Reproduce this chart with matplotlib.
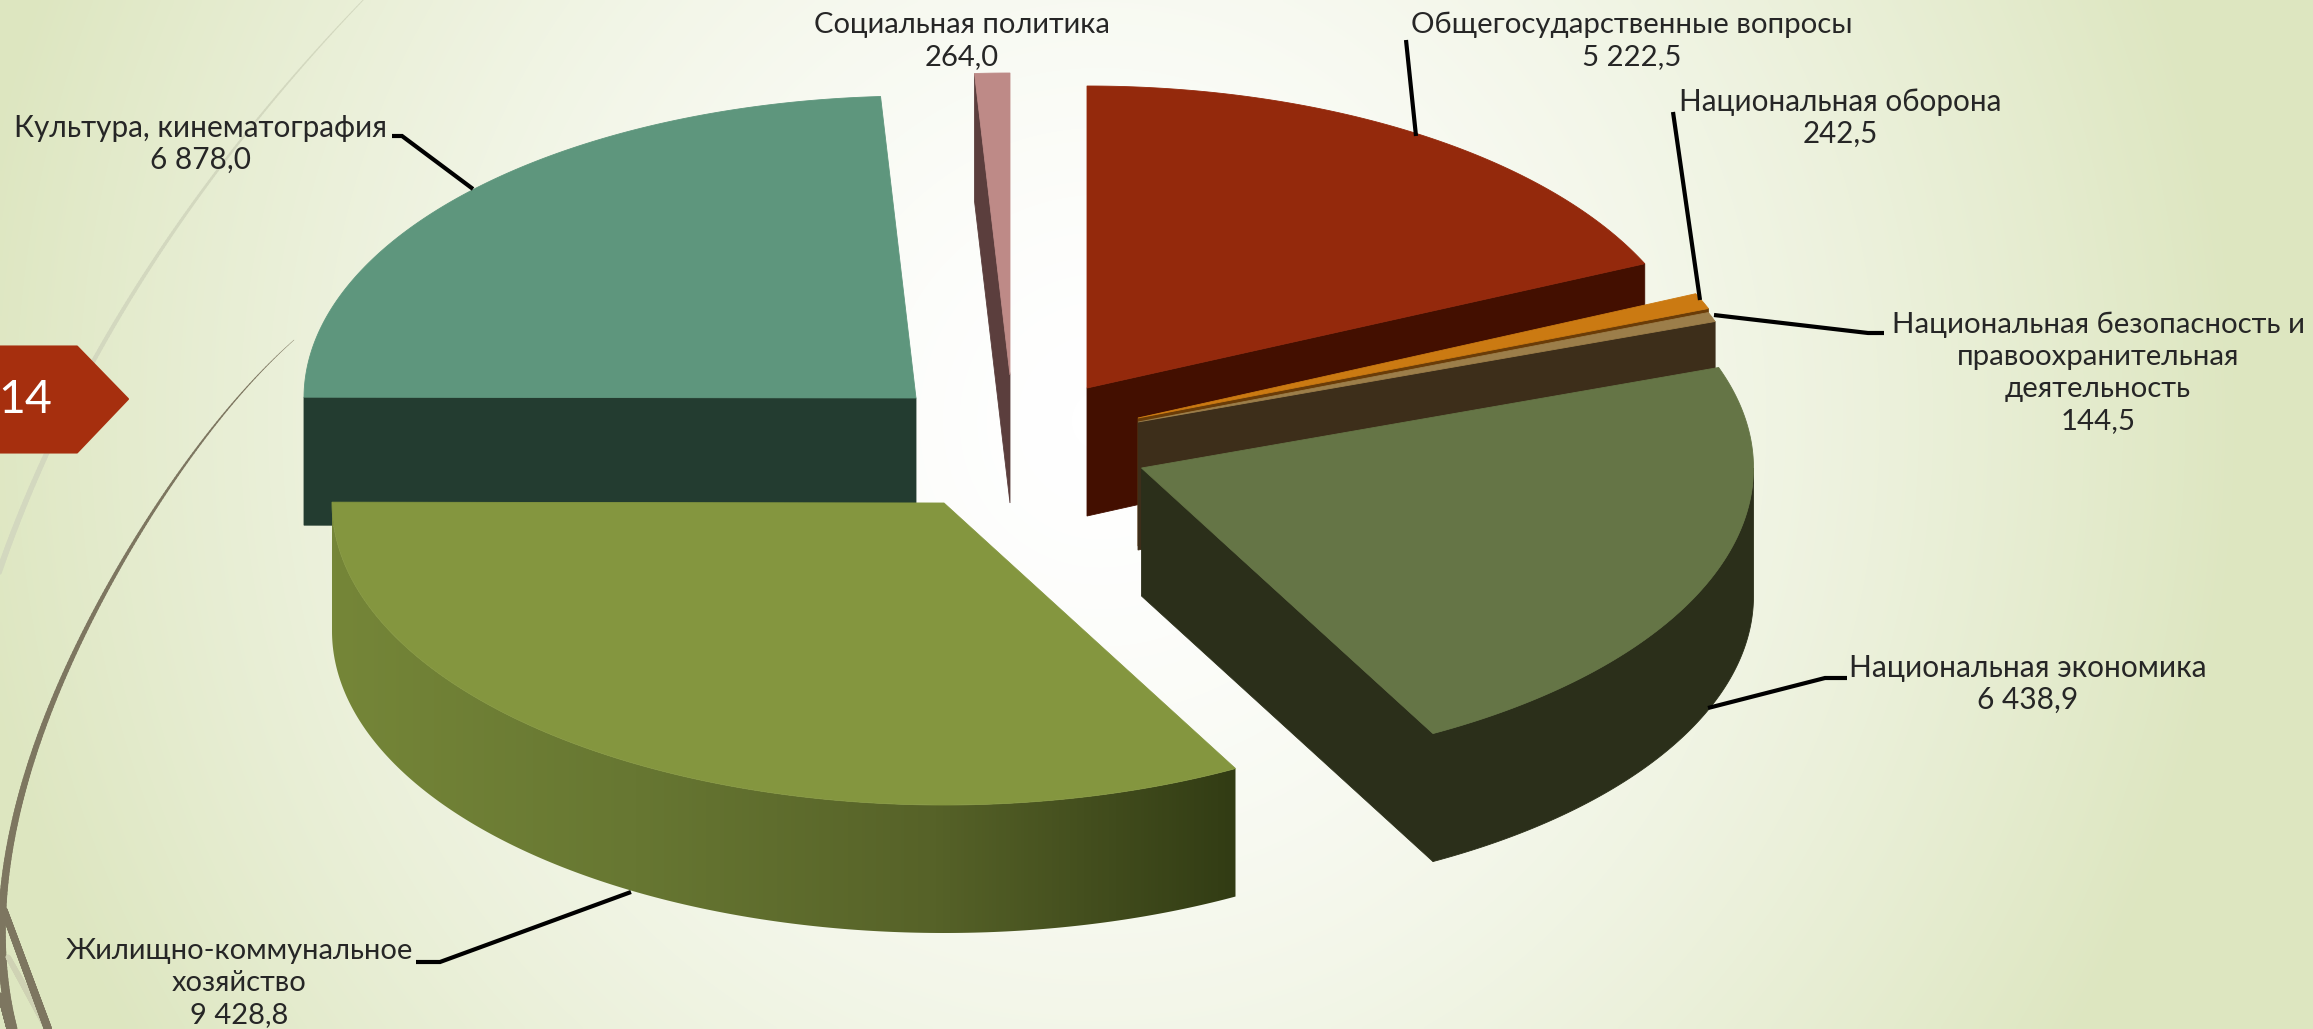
import numpy as np
import matplotlib
matplotlib.use("Agg")
import matplotlib.pyplot as plt
from matplotlib.patches import Polygon
from matplotlib.collections import LineCollection
from matplotlib.colors import LinearSegmentedColormap

plt.rcParams['font.family'] = ['Lato', 'DejaVu Sans']

# ---------- data ----------
categories = ['Общегосударственные вопросы', 'Национальная оборона',
              'Национальная безопасность и\nправоохранительная\nдеятельность',
              'Национальная экономика', 'Жилищно-коммунальное\nхозяйство',
              'Культура, кинематография', 'Социальная политика']
values = [5222.5, 242.5, 144.5, 6438.9, 9428.8, 6878.0, 264.0]
value_labels = ['5 222,5', '242,5', '144,5', '6 438,9', '9 428,8', '6 878,0', '264,0']

# ---------- style / layout ----------
W, H = 2313, 1029
RX, RY, DEPTH = 612, 302, 128
centres = [(1087, 388), (1138, 418), (1138, 422), (1141.5, 468), (944, 503), (916, 398), (1010, 375)]
top_cols = ['#94290C', '#CB7A12', '#9C7E4A', '#657546', '#84963F', '#5E967D', '#BE8A87']
side_cols = ['#430F00', '#6A3C08', '#3D2E1A', '#2B2F1A', '#323D16', '#233C30', '#5B3E3D']
draw_order = [6, 0, 1, 2, 5, 3, 4]
label_pos = [(1632, 25), (1840, 102), (2098, 325), (2028, 668), (239, 951), (200, 128), (962, 25)]
label_size = [21.2, 21.3, 21.2, 21.5, 21, 21.4, 21]
line_step = 32
leaders = [([1406, 1416], [40, 136]),
           ([1673, 1700], [112, 300]),
           ([1714, 1868, 1884], [315, 333, 333]),
           ([1708, 1825, 1847], [708, 678, 678]),
           ([631, 440, 416], [892, 962, 962]),
           ([392, 402, 473], [136, 136, 189])]

fig = plt.figure(figsize=(W / 100, H / 100), dpi=100)
ax = fig.add_axes([0, 0, 1, 1])
ax.set_xlim(0, W)
ax.set_ylim(H, 0)
ax.axis('off')

# background
yy, xx = np.mgrid[0:H:4, 0:W:4]
t = np.clip(np.hypot((xx - 1100) / 1150, (yy - 420) / 1200), 0, 1) ** 1.5
bg_cmap = LinearSegmentedColormap.from_list('bg', ['#FFFFFF', '#DDE6C0'])
ax.imshow(t, cmap=bg_cmap, vmin=0, vmax=1, extent=[0, W, H, 0], aspect='auto',
          zorder=0, interpolation='bilinear')


def ribbon(px, py, w0, w1, color, z=1, deg=3):
    px, py = np.asarray(px, float), np.asarray(py, float)
    s = np.r_[0, np.cumsum(np.hypot(np.diff(px), np.diff(py)))]
    s = s / s[-1]
    u = np.linspace(0, 1, 200)
    x = np.polyval(np.polyfit(s, px, deg), u)
    y = np.polyval(np.polyfit(s, py, deg), u)
    segs = np.stack([np.c_[x[:-1], y[:-1]], np.c_[x[1:], y[1:]]], axis=1)
    lw = np.linspace(w0, w1, len(segs)) * 0.72
    ax.add_collection(LineCollection(segs, linewidths=lw, colors=color, zorder=z,
                                     capstyle='round'))


# decorative curves
ribbon([365, 253, 167, 128, 43, -2], [0, 117, 253, 300, 453, 579], 0.8, 6, '#D3D8BF')
ribbon([294, 207, 100, 33, 5, 2, 13], [340, 435, 602, 756, 881, 951, 1029], 0.4, 9, '#7D7660', deg=5)
ribbon([8, 48], [957, 1029], 5, 7, '#CFD2B4', deg=1)
ribbon([4, 48], [910, 1029], 7, 8, '#7D7660', deg=1)
ribbon([0, 9], [995, 1029], 5, 5, '#7D7660', deg=1)

# section tag
ax.add_patch(Polygon([(-5, 346.5), (77, 346.5), (128, 399), (77, 452.5), (-5, 452.5)],
                     closed=True, fc='#A62F0E', ec='#A62F0E', lw=1.5, joinstyle='round', zorder=2))
ax.text(25, 400, '14', color='white', fontsize=33.5, ha='center', va='center', zorder=3)

# 3-D pie built from the values
fractions = np.array(values) / np.sum(values)
stops = np.concatenate([[0], np.cumsum(fractions)]) * 2 * np.pi


def rim(c, a):
    return c[0] + RX * np.sin(a), c[1] - RY * np.cos(a)


def face(x, y, fc, z):
    ax.add_patch(Polygon(np.c_[x, y], closed=True, fc=fc, ec=fc, lw=0.6, zorder=z))


z = 5
for i in draw_order:
    c = centres[i]
    a0, a1 = stops[i], stops[i + 1]
    top_c, side_c = top_cols[i], side_cols[i]
    # radial faces
    for a, visible in ((a0, np.sin(a0) < -1e-6), (a1, np.sin(a1) > 1e-6)):
        if visible:
            rx, ry = rim(c, a)
            face([c[0], rx, rx, c[0]], [c[1], ry, ry + DEPTH, c[1] + DEPTH], side_c, z)
            z += 1
    # outer wall
    lo, hi = max(a0, np.pi / 2), min(a1, 3 * np.pi / 2)
    if hi > lo:
        aa = np.linspace(lo, hi, 200)
        wx, wy = rim(c, aa)
        px = np.r_[wx, wx[::-1]]
        py = np.r_[wy, (wy + DEPTH)[::-1]]
        if i == 4:  # shaded wall of the largest slice
            cmap = LinearSegmentedColormap.from_list('w', ['#758638', '#677732', '#566228', '#323C14'])
            g = np.linspace(0, 1, 256).reshape(1, -1)
            im = ax.imshow(g, cmap=cmap, extent=[px.min(), px.max(), py.max(), py.min()],
                           aspect='auto', zorder=z)
            clip = Polygon(np.c_[px, py], closed=True, transform=ax.transData)
            im.set_clip_path(clip)
        else:
            face(px, py, side_c, z)
        z += 1
    # top face
    aa = np.linspace(a0, a1, max(8, int((a1 - a0) * 120)))
    tx, ty = rim(c, aa)
    face(np.r_[c[0], tx], np.r_[c[1], ty], top_c, z)
    z += 1

ax.set_xlim(0, W)
ax.set_ylim(H, 0)

# leaders and labels
for lx, ly in leaders:
    ax.plot(lx, ly, color='black', lw=3.0, solid_joinstyle='miter', solid_capstyle='butt', zorder=60)
for name, val, (x, y), fs in zip(categories, value_labels, label_pos, label_size):
    lines = name.split('\n') + [val]
    for k, ln in enumerate(lines):
        ax.text(x, y + k * line_step, ln, fontsize=fs, color='#262626', ha='center', va='center', zorder=70)

fig.savefig('out.png', dpi=100)
